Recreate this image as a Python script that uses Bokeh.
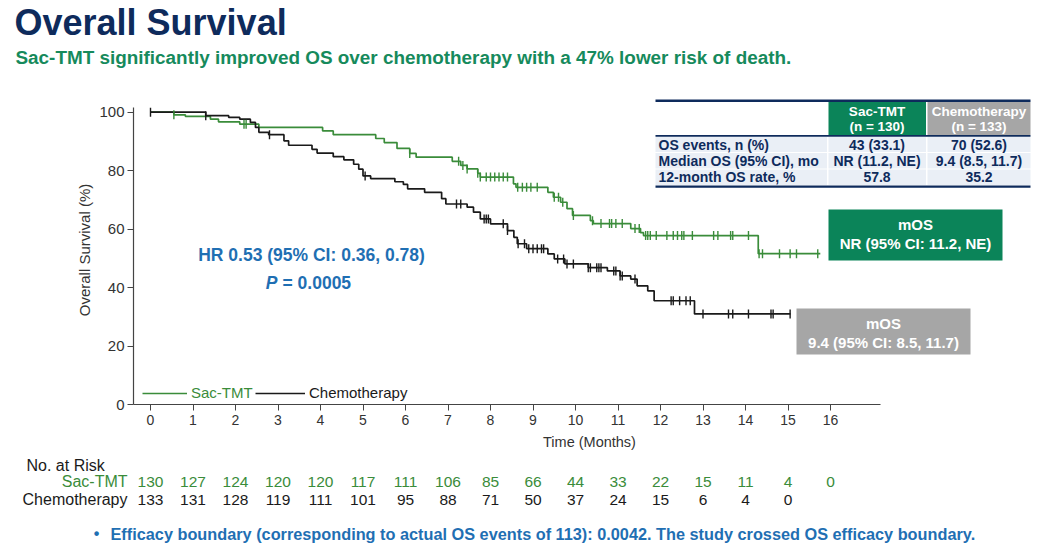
import numpy as np
from bokeh.plotting import figure
from bokeh.layouts import column
from bokeh.models import (Range1d, FixedTicker, Label, LabelSet, BoxAnnotation,
                          ColumnDataSource, Legend, LegendItem)
from bokeh.core.properties import value
from bokeh.embed import file_html
from bokeh.resources import INLINE

# ---------------- data ----------------
x_ticks = list(range(0, 17))
y_ticks = [0, 20, 40, 60, 80, 100]

sac_t = [0, 0.55, 0.82, 1.41, 1.6, 2.1, 2.55, 4.05, 4.3, 5.3, 5.5, 5.8, 6.1, 6.25,
         7.1, 7.3, 7.45, 7.7, 7.76, 8.54, 8.6, 9.35, 9.48, 9.65, 9.8, 9.93, 10.35,
         10.42, 11.3, 11.53, 11.6, 14.3, 15.76]
sac_s = [100, 99.1, 98.6, 97.6, 96.7, 95.9, 94.8, 93.6, 92.3, 91.0, 89.6, 87.6, 85.9, 84.6,
         83.2, 81.8, 80.6, 79.1, 77.8, 75.5, 74.3, 72.6, 70.9, 69.2, 67.0, 64.7, 62.9,
         61.9, 60.2, 58.8, 57.8, 51.6, 51.6]

chemo_t = [0, 1.3, 1.84, 2.1, 2.35, 2.47, 2.55, 2.78, 3.14, 3.25, 3.8, 3.92, 4.3, 4.55,
           4.78, 4.9, 5.0, 5.18, 5.75, 5.95, 6.05, 6.45, 6.85, 6.95, 7.45, 7.6, 7.76,
           8.0, 8.4, 8.55, 8.63, 8.85, 9.35, 9.5, 9.75, 10.3, 10.75, 11.05, 11.3, 11.45,
           11.7, 11.85, 12.8, 15.06]
chemo_s = [100, 98.8, 98.2, 97.6, 96.5, 94.8, 93.1, 92.3, 90.2, 88.7, 87.3, 86.0, 84.8, 83.7,
           82.2, 80.5, 78.2, 77.3, 76.2, 75.3, 73.8, 72.6, 70.4, 68.6, 67.5, 65.8, 63.5,
           61.8, 59.5, 57.2, 55.0, 53.3, 51.5, 49.8, 48.1, 46.8, 45.7, 44.0, 42.9, 40.6,
           38.9, 35.5, 31.0, 31.0]

sac_censor = [0.55, 2.2, 2.25, 6.1, 7.25, 7.35, 7.45, 7.7, 7.76, 7.9, 8.0, 8.1, 8.2, 8.3,
              8.4, 8.64, 8.75, 8.85, 8.95, 9.1, 9.5, 9.6, 9.7, 9.95, 10.4, 10.6, 10.8,
              10.85, 10.95, 11.1, 11.4, 11.5, 11.65, 11.7, 11.76, 11.9, 12.15, 12.3, 12.4,
              12.5, 12.55, 12.75, 13.25, 13.35, 13.65, 13.7, 14.07, 14.32, 14.4, 14.8,
              15.05, 15.2, 15.7]
chemo_censor = [0.0, 1.3, 2.8, 5.05, 7.2, 7.3, 7.85, 7.9, 7.95, 8.3, 8.4, 8.65, 8.8, 8.9,
                9.0, 9.1, 9.2, 9.25, 9.58, 9.72, 9.8, 9.95, 10.3, 10.35, 10.5, 10.55, 10.6,
                10.9, 10.95, 11.05, 11.1, 11.4, 12.25, 12.3, 12.45, 12.6, 12.7, 13.0, 13.6,
                13.7, 14.07, 14.6, 14.65, 15.05]

risk_sac = [130, 127, 124, 120, 120, 117, 111, 106, 85, 66, 44, 33, 22, 15, 11, 4, 0]
risk_chemo = [133, 131, 128, 119, 111, 101, 95, 88, 71, 50, 37, 24, 15, 6, 4, 0]

series_names = ["Sac-TMT", "Chemotherapy"]
table_header = [["Sac-TMT", "(n = 130)"], ["Chemotherapy", "(n = 133)"]]
table_rows = ["OS events, n (%)", "Median OS (95% CI), mo", "12-month OS rate, %"]
table_sac = ["43 (33.1)", "NR (11.2, NE)", "57.8"]
table_chemo = ["70 (52.6)", "9.4 (8.5, 11.7)", "35.2"]

# ---------------- styling ----------------
SANS = "Liberation Sans"
NAVY = "#0e2b5c"
TEAL = "#0b8459"
GREY = "#a6a6a6"
GREEN = "#3a8c3a"
BLACK = "#1a1a1a"
BLUE = "#1f6fb3"

# page pixel geometry
PAGE_W, PAGE_H = 1045, 556
TOP_H = 95          # title strip
MAIN_BOTTOM = 456   # bottom of main figure (page px)
FRAME_LEFT, FRAME_BOTTOM = 133, 404
PX0, PXM = 150.0, 42.5    # x pixel of month 0, px per month
PY0, PYP = 404.0, 2.923   # y pixel of 0%, px per percent


def DX(px):
    return (px - PX0) / PXM


def DY(py):
    return (PY0 - py) / PYP


def bare(h, xr, yr):
    f = figure(width=PAGE_W, height=h, output_backend="svg", toolbar_location=None,
               title=None, x_range=xr, y_range=yr, x_axis_type=None, y_axis_type=None,
               min_border=0, min_border_left=0, min_border_right=0, min_border_top=0,
               min_border_bottom=0, frame_align=False)
    f.outline_line_color = None
    f.background_fill_color = "white"
    f.border_fill_color = "white"
    return f


def txt(fig, text, x, y, size, color, style="normal", align="left", baseline="middle"):
    fig.add_layout(Label(x=x, y=y, text=text, text_font=SANS, text_font_size=f"{size}px",
                         text_font_style=style, text_color=color, text_align=align,
                         text_baseline=baseline))


# ---------------- top strip: title ----------------
top = bare(TOP_H, Range1d(0, PAGE_W), Range1d(TOP_H, 0))
txt(top, "Overall Survival", 14, 21.5, 36, NAVY, "bold", "left")
txt(top, "Sac-TMT significantly improved OS over chemotherapy with a 47% lower risk of death.",
    15, 56.5, 18.9, "#168a5c", "bold", "left")

# ---------------- main chart ----------------
p = figure(width=PAGE_W, height=MAIN_BOTTOM - TOP_H, output_backend="svg",
           toolbar_location=None, title=None,
           x_range=Range1d(DX(FRAME_LEFT), DX(PAGE_W)), y_range=Range1d(0, DY(TOP_H)),
           min_border_left=FRAME_LEFT, min_border_right=0, min_border_top=0,
           min_border_bottom=MAIN_BOTTOM - FRAME_BOTTOM, frame_align=False)
p.outline_line_color = None
p.grid.visible = False
p.background_fill_color = "white"
p.border_fill_color = "white"

for ax in (p.xaxis, p.yaxis):
    ax.axis_line_color = "#444444"
    ax.axis_line_width = 1.2
    ax.major_tick_line_color = "#444444"
    ax.major_tick_in = 0
    ax.major_tick_out = 6
    ax.minor_tick_line_color = None
    ax.major_label_text_color = "#333333"
    ax.axis_label_text_color = "#333333"
    ax.axis_label_text_font_style = "normal"

p.xaxis.ticker = FixedTicker(ticks=x_ticks)
p.xaxis.bounds = (DX(FRAME_LEFT), DX(880))
p.xaxis.major_label_text_font = SANS
p.xaxis.major_label_text_font_size = "14px"
p.xaxis.major_label_standoff = 4
p.xaxis.axis_label = "Time (Months)"
p.xaxis.axis_label_text_font = SANS
p.xaxis.axis_label_text_font_size = "14.5px"
p.xaxis.axis_label_standoff = 6

p.yaxis.ticker = FixedTicker(ticks=y_ticks)
p.yaxis.bounds = (0, 101.5)
p.yaxis.major_label_text_font = SANS
p.yaxis.major_label_text_font_size = "15px"
p.yaxis.major_label_standoff = 3
p.yaxis.axis_label = "Overall Survival (%)"
p.yaxis.axis_label_text_font = SANS
p.yaxis.axis_label_text_font_size = "15px"
p.yaxis.axis_label_standoff = 3

r_sac = p.step(sac_t, sac_s, mode="after", line_color=GREEN, line_width=1.7)
r_chemo = p.step(chemo_t, chemo_s, mode="after", line_color=BLACK, line_width=1.7)


def surv_at(ts, ss, cs):
    idx = np.searchsorted(np.array(ts), np.array(cs), side="right") - 1
    return np.array(ss)[idx]


p.scatter(sac_censor, surv_at(sac_t, sac_s, sac_censor), marker="dash", angle=np.pi / 2,
          size=9, line_color=GREEN, line_width=1.4)
p.scatter(chemo_censor, surv_at(chemo_t, chemo_s, chemo_censor), marker="dash",
          angle=np.pi / 2, size=9, line_color=BLACK, line_width=1.4)

for name, rend, loc, gw, col in [(series_names[0], r_sac, (9, 3), 45, GREEN),
                                  (series_names[1], r_chemo, (122, 3), 50, BLACK)]:
    lg = Legend(items=[LegendItem(label=name, renderers=[rend])], location=loc,
                orientation="horizontal", glyph_width=gw, glyph_height=16, label_height=16,
                label_standoff=4, padding=0, margin=0, border_line_color=None,
                background_fill_alpha=0, label_text_color=col, label_text_font=SANS,
                label_text_font_size="15px")
    p.add_layout(lg, "center")


def box(l, r, t, b, color):
    p.add_layout(BoxAnnotation(left=DX(l), right=DX(r), top=DY(t), bottom=DY(b),
                               fill_color=color, fill_alpha=1.0, line_color=None))


def mtxt(text, px, py, size, color, style="normal", align="left"):
    txt(p, text, DX(px), DY(py), size, color, style, align)


# table (top right)
row_bounds = [(136, 152), (152, 168.5), (168.5, 185)]
col_bounds = [(655, 826.5), (828, 925.5), (927, 1030)]
for (t, b) in row_bounds:
    for (l, r) in col_bounds:
        box(l, r, t + 0.5, b - 0.5, "#eaeff6")
box(828, 925.5, 101.5, 134.5, TEAL)
box(927, 1030, 101.5, 134.5, GREY)
box(655, 1030, 99, 101.5, NAVY)
box(655, 1030, 134.5, 136.2, NAVY)
box(655, 1030, 185, 187.2, NAVY)

mtxt(table_header[0][0], 876.5, 111, 13.5, "white", "bold", "center")
mtxt(table_header[0][1], 876.5, 126, 13.5, "white", "bold", "center")
mtxt(table_header[1][0], 978.5, 111, 13.5, "white", "bold", "center")
mtxt(table_header[1][1], 978.5, 126, 13.5, "white", "bold", "center")
for i, (t, b) in enumerate(row_bounds):
    yc = (t + b) / 2
    mtxt(table_rows[i], 658, yc, 14, NAVY, "bold", "left")
    mtxt(table_sac[i], 876.5, yc, 14, NAVY, "bold", "center")
    mtxt(table_chemo[i], 978.5, yc, 14, NAVY, "bold", "center")

# mOS boxes
box(828, 1002, 209, 260, TEAL)
mtxt("mOS", 915, 224, 15, "white", "bold", "center")
mtxt("NR (95% CI: 11.2, NE)", 915, 243, 15, "white", "bold", "center")
box(796, 970, 308, 354, GREY)
mtxt("mOS", 883, 323, 15, "white", "bold", "center")
mtxt("9.4 (95% CI: 8.5, 11.7)", 883, 342, 15, "white", "bold", "center")

# HR text
mtxt("HR 0.53 (95% CI: 0.36, 0.78)", 311, 254, 17.5, BLUE, "bold", "center")
mtxt("P", 277, 282, 17.5, BLUE, "bold italic", "right")
mtxt("= 0.0005", 282, 282, 17.5, BLUE, "bold", "left")

# ---------------- bottom strip: number at risk + footer ----------------
bot = bare(PAGE_H - MAIN_BOTTOM, Range1d(DX(0), DX(PAGE_W)), Range1d(PAGE_H, MAIN_BOTTOM))
txt(bot, "No. at Risk", DX(26), 465, 16, BLACK, "normal", "left")
txt(bot, series_names[0], DX(127), 481, 16, GREEN, "normal", "right")
txt(bot, series_names[1], DX(127), 499, 16, BLACK, "normal", "right")

src_sac = ColumnDataSource(dict(x=x_ticks[:len(risk_sac)], y=[481] * len(risk_sac),
                                t=[str(v) for v in risk_sac]))
src_chemo = ColumnDataSource(dict(x=x_ticks[:len(risk_chemo)], y=[499] * len(risk_chemo),
                                  t=[str(v) for v in risk_chemo]))
for src, col in [(src_sac, GREEN), (src_chemo, BLACK)]:
    bot.add_layout(LabelSet(x="x", y="y", text="t", source=src, text_align="center",
                            text_baseline="middle", text_font=value(SANS),
                            text_font_size=value("15.5px"), text_color=col))

txt(bot, "\u2022", DX(96), 533, 16, BLUE, "bold", "center")
txt(bot, "Efficacy boundary (corresponding to actual OS events of 113): 0.0042. "
    "The study crossed OS efficacy boundary.", DX(110), 533, 16.3, BLUE, "bold", "left")

layout = column(top, p, bot, spacing=0)
open("out.html", "w").write(file_html(layout, INLINE))
